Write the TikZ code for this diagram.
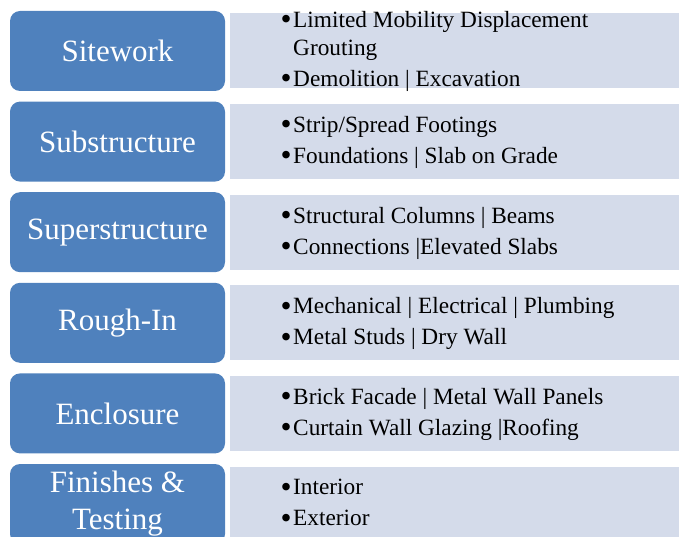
\documentclass[tikz,border=0pt]{standalone}
\usepackage{fontspec}
\usepackage{graphicx}
\setmainfont{Liberation Serif}
\definecolor{phaseblue}{HTML}{4F81BD}
\definecolor{panelgray}{HTML}{D4DBEA}
\newcommand{\itm}{\raisebox{-2.4pt}{\scalebox{1.35}{\textbullet}}&}
\newenvironment{tasklist}{\begin{tabular}{@{}l@{\hspace{1.5pt}}l@{}}}{\end{tabular}}
\begin{document}
\begin{tikzpicture}[x=1pt,y=-1pt,
  phase/.style={fill=phaseblue, rounded corners=10pt},
  panel/.style={fill=panelgray},
  phasetext/.style={text=white, font=\fontsize{31}{37}\selectfont, align=center, inner sep=0pt},
  itemtext/.style={anchor=west, inner sep=0pt, font=\fontsize{23.3}{28}\selectfont}]
\useasboundingbox (0,0) rectangle (679,537);
\begin{scope}
\clip (0,0) rectangle (679,537);
% one row per phase: rounded block on the left, panel of tasks on the right
\foreach \i/\lbl in {0/Sitework,1/Substructure,2/Superstructure,3/Rough-In,4/Enclosure,5/{Finishes \&\\Testing}}{
  \pgfmathsetmacro{\yt}{11+90.6*\i}
  \fill[panel] (230,\yt+2.5) rectangle (700,\yt+77.5);
  \fill[phase] (10,\yt) rectangle (225,\yt+80);
  \node[phasetext] (b\i) at (117.5,\yt+40) {\lbl};
}
\end{scope}
\node[itemtext] (t0) at (280.5,51.5) {\begin{tasklist}\itm Limited Mobility Displacement\\ & Grouting\\[3pt] \itm Demolition | Excavation\end{tasklist}};
\node[itemtext] (t1) at (280.5,142.5) {\begin{tasklist}\itm Strip/Spread Footings\\[3pt] \itm Foundations | Slab on Grade\end{tasklist}};
\node[itemtext] (t2) at (280.5,233) {\begin{tasklist}\itm Structural Columns | Beams\\[3pt] \itm Connections |Elevated Slabs\end{tasklist}};
\node[itemtext] (t3) at (280.5,323.5) {\begin{tasklist}\itm Mechanical | Electrical | Plumbing\\[3pt] \itm Metal Studs | Dry Wall\end{tasklist}};
\node[itemtext] (t4) at (280.5,414) {\begin{tasklist}\itm Brick Facade | Metal Wall Panels\\[3pt] \itm Curtain Wall Glazing |Roofing\end{tasklist}};
\node[itemtext] (t5) at (280.5,504.5) {\begin{tasklist}\itm Interior\\[3pt] \itm Exterior\end{tasklist}};
\end{tikzpicture}
\end{document}
